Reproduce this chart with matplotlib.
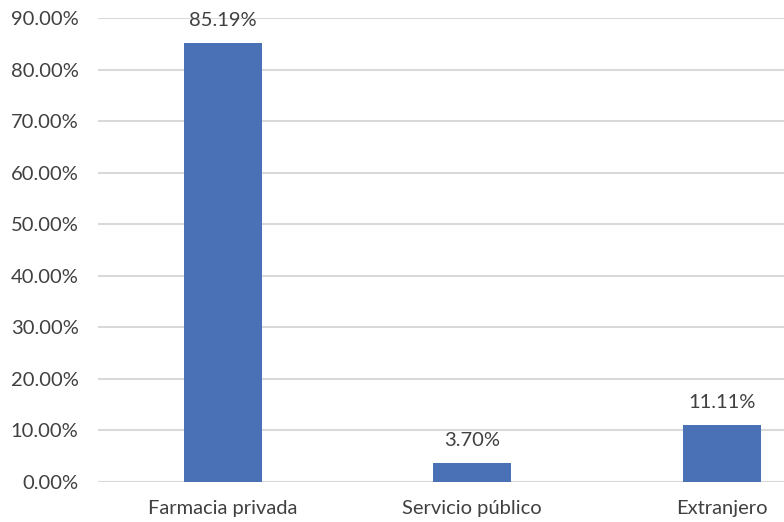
import matplotlib
matplotlib.use("Agg")
import matplotlib.pyplot as plt
from matplotlib.ticker import FuncFormatter

categories = ["Farmacia privada", "Servicio público", "Extranjero"]
values = [85.19, 3.70, 11.11]
yticks = [0, 10, 20, 30, 40, 50, 60, 70, 80, 90]

plt.rcParams['font.family'] = ['Lato', 'DejaVu Sans']
text_color = "#404040"

fig = plt.figure(figsize=(7.84, 5.22), dpi=100)
W, H = 784, 522
ax = fig.add_axes([98 / W, 40 / H, 748.5 / W, 464 / H])

x = list(range(len(categories)))
bars = ax.bar(x, values, width=0.313, color="#4a71b6", zorder=3)
ax.set_xlim(-0.5, 2.5)
ax.set_ylim(0, 90)
ax.set_yticks(yticks)
ax.yaxis.set_major_formatter(FuncFormatter(lambda v, p: f"{v:.2f}%"))
ax.set_xticks(x)
ax.set_xticklabels(categories)
ax.grid(axis="y", color="#d9d9d9", linewidth=1.5, zorder=0)
ax.set_axisbelow(True)
for s in ax.spines.values():
    s.set_visible(False)
ax.tick_params(axis="both", length=0, labelsize=14.5, colors=text_color)
ax.tick_params(axis="y", pad=14)
ax.tick_params(axis="x", pad=13)
ax.axhline(0, color="#d9d9d9", linewidth=1.5, zorder=1)

for b, v in zip(bars, values):
    ax.annotate(f"{v:.2f}%", (b.get_x() + b.get_width() / 2, v),
                xytext=(0, 10), textcoords="offset points", ha="center", va="bottom",
                fontsize=14.5, color=text_color, clip_on=False)

fig.savefig("out.png", dpi=100)
